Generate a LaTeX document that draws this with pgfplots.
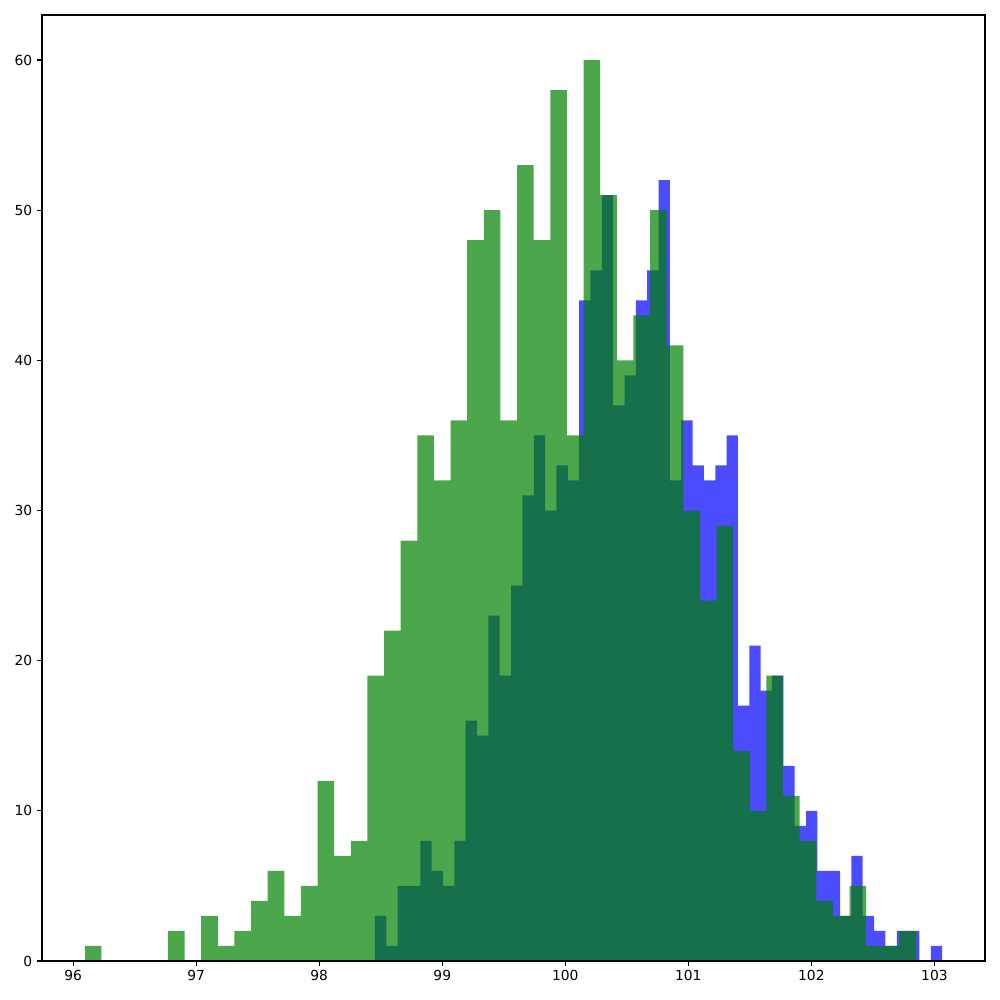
\documentclass[border=0pt]{standalone}
\usepackage{pgfplots}
\usepackage{pgfplotstable}
\pgfplotsset{compat=1.18}
\usepackage{fontspec}
\setmainfont{DejaVu Sans}

\definecolor{mplblue}{RGB}{0,0,255}
\definecolor{mplgreen}{RGB}{0,128,0}

% left bin edges and counts (last row = right edge of the last bin)
\pgfplotstableread{
x y
98.4528 3
98.5450 1
98.6372 5
98.7294 5
98.8216 8
98.9138 6
99.0060 5
99.0982 8
99.1904 16
99.2826 15
99.3748 23
99.4670 19
99.5592 25
99.6514 31
99.7436 35
99.8358 30
99.9280 33
100.0202 32
100.1124 44
100.2046 46
100.2968 51
100.3890 37
100.4812 39
100.5734 44
100.6656 46
100.7578 52
100.8500 32
100.9422 36
101.0344 33
101.1266 32
101.2188 33
101.3110 35
101.4032 17
101.4954 21
101.5876 18
101.6798 19
101.7720 13
101.8642 9
101.9564 10
102.0486 6
102.1408 6
102.2330 3
102.3252 7
102.4174 3
102.5096 2
102.6018 1
102.6940 2
102.7862 2
102.8784 0
102.9706 1
103.0628 1
}\bluedata

\pgfplotstableread{
x y
96.0951 1
96.2302 0
96.3653 0
96.5005 0
96.6356 0
96.7707 2
96.9058 0
97.0409 3
97.1761 1
97.3112 2
97.4463 4
97.5814 6
97.7165 3
97.8517 5
97.9868 12
98.1219 7
98.2570 8
98.3921 19
98.5273 22
98.6624 28
98.7975 35
98.9326 32
99.0677 36
99.2029 48
99.3380 50
99.4731 36
99.6082 53
99.7433 48
99.8785 58
100.0136 35
100.1487 60
100.2838 51
100.4189 40
100.5541 43
100.6892 50
100.8243 41
100.9594 30
101.0945 24
101.2297 29
101.3648 14
101.4999 10
101.6350 19
101.7701 11
101.9053 8
102.0404 4
102.1755 3
102.3106 5
102.4457 1
102.5809 1
102.7160 2
102.8511 2
}\greendata

\begin{document}
\begin{tikzpicture}
\begin{axis}[
    scale only axis,
    width=9.43in, height=9.46in,
    xmin=95.7467, xmax=103.4112,
    ymin=0, ymax=63,
    xtick={96,97,98,99,100,101,102,103},
    ytick={0,10,20,30,40,50,60},
    tick pos=left,
    tick align=outside,
    major tick length=3.5pt,
    every tick/.style={black, line width=0.8pt},
    axis line style={line width=0.8pt},
    tick label style={font=\fontsize{10}{12}\selectfont},
    /pgf/number format/assume math mode=true,
    axis on top,
    ]
\addplot[const plot, fill=mplblue, fill opacity=0.7, draw=none]
    table {\bluedata} \closedcycle;
\addplot[const plot, fill=mplgreen, fill opacity=0.7, draw=none]
    table {\greendata} \closedcycle;
\end{axis}
\path ([shift={(-0.42in,-0.39in)}]current axis.south west)
    rectangle ([shift={(0.15in,0.15in)}]current axis.north east);
\end{tikzpicture}
\end{document}
